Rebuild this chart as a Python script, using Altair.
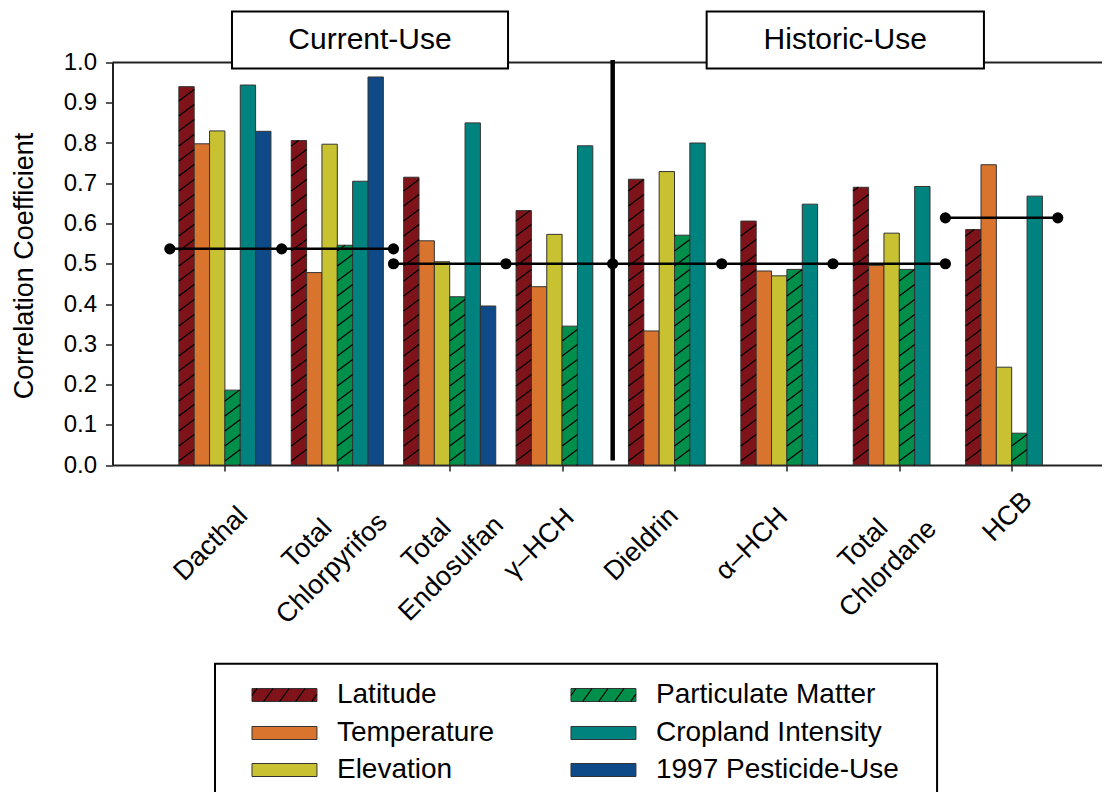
import math
import altair as alt
import pandas as pd

# ---------------- data ----------------
compounds = ["Dacthal", "Total\nChlorpyrifos", "Total\nEndosulfan", "γ–HCH",
             "Dieldrin", "α–HCH", "Total\nChlordane", "HCB"]
series = ["Latitude", "Temperature", "Elevation", "Particulate Matter",
          "Cropland Intensity", "1997 Pesticide-Use"]
colors = ["#7e1419", "#d9742f", "#c8c232", "#008f4a", "#00837f", "#0f4a88"]
hatched_series = ["Latitude", "Particulate Matter"]

latitude    = [0.940, 0.806, 0.715, 0.632, 0.710, 0.606, 0.690, 0.585]
temperature = [0.798, 0.478, 0.557, 0.443, 0.333, 0.482, 0.496, 0.746]
elevation   = [0.830, 0.797, 0.505, 0.573, 0.729, 0.470, 0.576, 0.243]
particulate = [0.186, 0.546, 0.418, 0.345, 0.571, 0.486, 0.486, 0.079]
cropland    = [0.944, 0.705, 0.850, 0.793, 0.800, 0.648, 0.692, 0.668]
pesticide   = [0.829, 0.964, 0.395, None, None, None, None, None]
values_by_series = [latitude, temperature, elevation, particulate, cropland, pesticide]

# significance thresholds (level, dot positions on the group axis)
thr_level = [0.537, 0.500, 0.614]
thr_dots = [[0.51, 1.505, 2.50],
            [2.50, 3.50, 4.45, 5.42, 6.41, 7.41],
            [7.41, 8.41]]

header_text = ["Current-Use", "Historic-Use"]
header_x = [1.063, 5.286]
header_x2 = [3.519, 7.753]
header_y, header_y2 = 0.985, 1.127
divider_x = 4.45
divider_y = [0.011, 1.006]

# ---------------- layout constants ----------------
PX_X = 112.4          # pixels per group unit
PLOT_H = 402.5
PLOT_W = 989.5
XMAX = PLOT_W / PX_X
BAR_W = 15.35 / PX_X
FONT = "Liberation Sans"
# placement (px) of each rotated tick label block relative to its tick, as in the reference
label_nudge = [-14, -30, -23, -23, -33, -35, -36, -4]
label_drop = [79, 79, 79, 79, 79, 79, 79, 52]

xs = alt.Scale(domain=[0, XMAX], nice=False, zero=False)
ys = alt.Scale(domain=[0, 1], nice=False, zero=False)
cs = alt.Scale(domain=series, range=colors)

x_axis = alt.Axis(values=list(range(1, 9)), labels=False, tickSize=6, tickWidth=1.5,
                  domainWidth=2, domainColor="#222", tickColor="#222", grid=False, title=None)
y_axis = alt.Axis(values=[round(i * 0.1, 1) for i in range(11)], format=".1f",
                  labelFontSize=24, labelColor="black", labelPadding=9, tickSize=7,
                  tickWidth=1.5, tickColor="#222", domainWidth=2, domainColor="#222",
                  grid=False, title="Correlation Coefficient", titleFontSize=27,
                  titleFontWeight="normal", titleColor="black", titleX=-74, titleY=203)


def X(f):
    return alt.X(f, type="quantitative", scale=xs, axis=x_axis)


def Y(f):
    return alt.Y(f, type="quantitative", scale=ys, axis=y_axis)


def hatch(x0, x1, y0, y1, slope, vspace, phase):
    """parallel '/' lines clipped to a rectangle (given in data units)."""
    X0, X1, Y0, Y1 = x0 * PX_X, x1 * PX_X, y0 * PLOT_H, y1 * PLOT_H
    segs = []
    cmin = -slope * (X1 - X0)
    cmax = Y1 - Y0
    k = math.floor((cmin - phase) / vspace)
    while True:
        c = phase + k * vspace
        if c > cmax:
            break
        xa = max(X0, X0 + (0 - c) / slope)
        xb = min(X1, X0 + (Y1 - Y0 - c) / slope)
        if xb - xa > 0.5:
            segs.append(dict(x=xa / PX_X, x2=xb / PX_X,
                             y=(Y0 + c + slope * (xa - X0)) / PLOT_H,
                             y2=(Y0 + c + slope * (xb - X0)) / PLOT_H))
        k += 1
    return segs


# ---------------- tables ----------------
bar_rows, hatch_rows = [], []
for g, name in enumerate(compounds, start=1):
    for j, s in enumerate(series):
        v = values_by_series[j][g - 1]
        if v is None:
            continue
        left = g - 3 * BAR_W + j * BAR_W
        bar_rows.append(dict(compound=name, series=s, value=v, x=left, x2=left + BAR_W))
        if s in hatched_series:
            hatch_rows += hatch(left, left + BAR_W, 0, v, 0.75, 15.0, 4.0)
bars_df = pd.DataFrame(bar_rows)
hatch_df = pd.DataFrame(hatch_rows)

thr_line_rows, thr_dot_rows = [], []
for i, (lvl, dots) in enumerate(zip(thr_level, thr_dots)):
    for d in dots:
        thr_dot_rows.append(dict(seg=i, x=d, y=lvl))
    thr_line_rows.append(dict(seg=i, x=min(dots), x2=max(dots), y=lvl))
thr_line_df = pd.DataFrame(thr_line_rows)
thr_dot_df = pd.DataFrame(thr_dot_rows)

header_df = pd.DataFrame(dict(text=header_text, x=header_x, x2=header_x2,
                              xc=[(a + b) / 2 for a, b in zip(header_x, header_x2)],
                              y=header_y, y2=header_y2, yc=(header_y + header_y2) / 2))

# rotated label offsets (page pixels -> rotated text frame)
a = math.radians(45)
label_rows = []
for g, (name, nx, dr) in enumerate(zip(compounds, label_nudge, label_drop), start=1):
    ddx = math.cos(a) * nx - math.sin(a) * dr
    ddy = math.sin(a) * nx + math.cos(a) * dr
    label_rows.append(dict(label=name, x=g, y=0.0, ldx=ddx, ldy=ddy))

# legend layout
leg_box = dict(x=0.912, x2=7.336, y=-0.494, y2=-1.2)
leg_col_x = [1.241, 4.079]
leg_row_y = [-0.5714, -0.6658, -0.7578]
SW_W = 0.578
SW_H = 13 / PLOT_H
leg_rows, leg_hatch = [], []
for i, s in enumerate(series):
    cx = leg_col_x[i // 3]
    cy = leg_row_y[i % 3]
    leg_rows.append(dict(series=s, x=cx, x2=cx + SW_W, y=cy - SW_H / 2, y2=cy + SW_H / 2,
                         lx=cx + 0.756, ly=cy))
    if s in hatched_series:
        leg_hatch += hatch(cx, cx + SW_W, cy - SW_H / 2, cy + SW_H / 2, 1.4, 22.4, 6.0)
leg_df = pd.DataFrame(leg_rows)
leg_hatch_df = pd.DataFrame(leg_hatch)

# ---------------- layers ----------------
frame_top = alt.Chart(pd.DataFrame(dict(x=[0.0], x2=[XMAX], y=[1.0]))).mark_rule(
    color="#222", strokeWidth=2).encode(x=X("x"), x2="x2", y=Y("y"))

bar_layer = alt.Chart(bars_df).mark_bar(stroke="#333333", strokeWidth=1).encode(
    x=X("x"), x2="x2", y=Y("value"), y2=alt.datum(0),
    color=alt.Color("series:N", scale=cs, legend=None))

hatch_layer = alt.Chart(hatch_df).mark_rule(color="black", strokeWidth=1.2).encode(
    x=X("x"), x2="x2", y=Y("y"), y2="y2")

thr_lines = alt.Chart(thr_line_df).mark_rule(color="black", strokeWidth=2.5).encode(
    x=X("x"), x2="x2", y=Y("y"))
thr_points = alt.Chart(thr_dot_df).mark_circle(color="black", size=125, opacity=1).encode(
    x=X("x"), y=Y("y"))

divider = alt.Chart(pd.DataFrame(dict(x=[divider_x], y=[divider_y[0]], y2=[divider_y[1]]))).mark_rule(
    color="black", strokeWidth=4.5).encode(x=X("x"), y=Y("y"), y2="y2")

header_box = alt.Chart(header_df).mark_rect(fill="white", stroke="black", strokeWidth=2).encode(
    x=X("x"), x2="x2", y=Y("y"), y2="y2")
header_txt = alt.Chart(header_df).mark_text(fontSize=30, color="black", align="center",
                                            baseline="middle").encode(
    x=X("xc"), y=Y("yc"), text="text")

# per-label offsets go through separate text marks (dx/dy are mark properties)
label_layers = []
for r in label_rows:
    label_layers.append(
        alt.Chart(pd.DataFrame([r])).mark_text(
            angle=315, align="center", baseline="middle", lineBreak="\n",
            fontSize=27, lineHeight=35, color="black", dx=r["ldx"], dy=r["ldy"]
        ).encode(x=X("x"), y=Y("y"), text="label")
    )

legend_box = alt.Chart(pd.DataFrame([leg_box])).mark_rect(fill="white", stroke="black",
                                                          strokeWidth=2).encode(
    x=X("x"), x2="x2", y=Y("y"), y2="y2")
legend_sw = alt.Chart(leg_df).mark_rect(stroke="#333333", strokeWidth=1).encode(
    x=X("x"), x2="x2", y=Y("y"), y2="y2",
    color=alt.Color("series:N", scale=cs, legend=None))
legend_hatch = alt.Chart(leg_hatch_df).mark_rule(color="black", strokeWidth=1.2).encode(
    x=X("x"), x2="x2", y=Y("y"), y2="y2")
legend_txt = alt.Chart(leg_df).mark_text(fontSize=28, align="left", baseline="middle",
                                         color="black").encode(
    x=X("lx"), y=Y("ly"), text="series")

TOTAL_W, TOTAL_H = 1094, 784
pad_left, pad_top = 104.5, 54.5
chart = alt.layer(
    frame_top, bar_layer, hatch_layer, thr_lines, thr_points, divider,
    header_box, header_txt, *label_layers,
    legend_box, legend_sw, legend_hatch, legend_txt,
).properties(
    width=PLOT_W, height=PLOT_H,
    autosize=alt.AutoSizeParams(type="none"),
    padding={"left": pad_left, "top": pad_top,
             "right": TOTAL_W - pad_left - PLOT_W,
             "bottom": TOTAL_H - pad_top - PLOT_H},
).configure(font=FONT).configure_view(stroke=None)

chart.save("out.html", embed_options={"renderer": "svg", "actions": False})
